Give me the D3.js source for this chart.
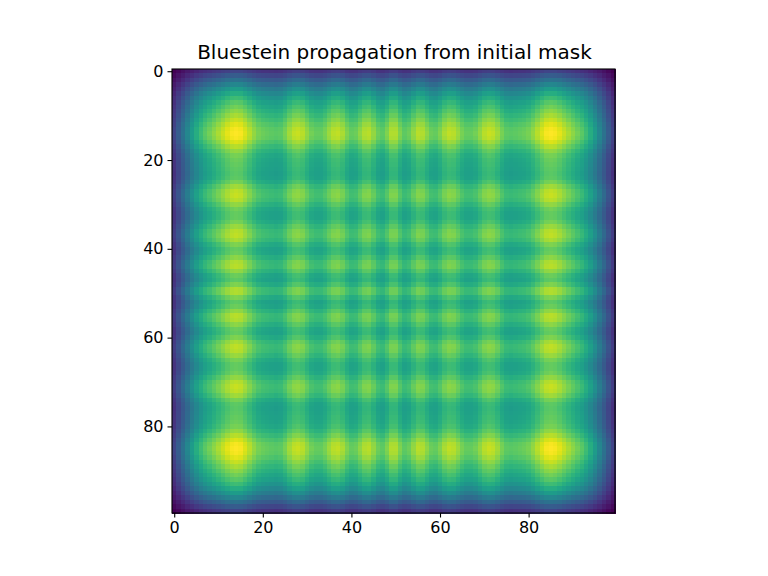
<!DOCTYPE html><html><head><meta charset="utf-8"><script src="https://cdn.jsdelivr.net/npm/d3@7"></script>
<style>body{margin:0;background:#fff}text{font-family:"DejaVu Sans",sans-serif}</style></head><body><svg width="768" height="576"></svg><script>
const halfProfile=[0.26,0.34,0.42,0.50,0.58,0.65,0.71,0.76,0.80,0.84,0.88,0.92,0.96,0.99,1.0,0.99,0.95,0.90,0.85,0.81,0.79,0.78,0.77,0.76,0.77,0.81,0.87,0.91,0.92,0.90,0.85,0.80,0.78,0.78,0.81,0.86,0.90,0.91,0.88,0.82,0.78,0.79,0.84,0.89,0.90,0.85,0.79,0.77,0.82,0.89];
const profile=halfProfile.concat(halfProfile.slice().reverse());
const ticks=[0,20,40,60,80];
const title="Bluestein propagation from initial mask";
const svg=d3.select("svg");
const L=172,R=615,T=69,B=513;
const x=d3.scaleLinear().domain([-0.5,99.5]).range([L,R]);
const y=d3.scaleLinear().domain([-0.5,99.5]).range([T,B]);
const cells=[];profile.forEach((a,i)=>profile.forEach((b,j)=>cells.push({i,j,v:a*b})));
const c=d3.scaleSequential(d3.interpolateViridis).domain(d3.extent(cells,d=>d.v));
svg.append("g").attr("shape-rendering","crispEdges").selectAll("rect").data(cells).join("rect")
 .attr("x",d=>x(d.j-0.5)).attr("y",d=>y(d.i-0.5)).attr("width",x(1)-x(0)+0.6).attr("height",y(1)-y(0)+0.6)
 .attr("fill",d=>c(d.v));
svg.append("g").attr("transform",`translate(0,${B})`).call(d3.axisBottom(x).tickValues(ticks).tickSizeOuter(0).tickSize(4.5).tickPadding(4)).attr("font-size",16);
svg.append("g").attr("transform",`translate(${L},0)`).call(d3.axisLeft(y).tickValues(ticks).tickSizeOuter(0).tickSize(4.5).tickPadding(4)).attr("font-size",16);
svg.selectAll(".domain").remove();
svg.selectAll(".tick line").attr("stroke-width",1.1);
svg.append("rect").attr("x",L).attr("y",T).attr("width",R-L).attr("height",B-T).attr("fill","none").attr("stroke","#000").attr("stroke-width",1.1);
svg.selectAll(".tick text").attr("fill","#000");
svg.append("text").attr("x",394.5).attr("y",59).attr("text-anchor","middle").attr("font-size",20).text(title);
</script></body></html>
